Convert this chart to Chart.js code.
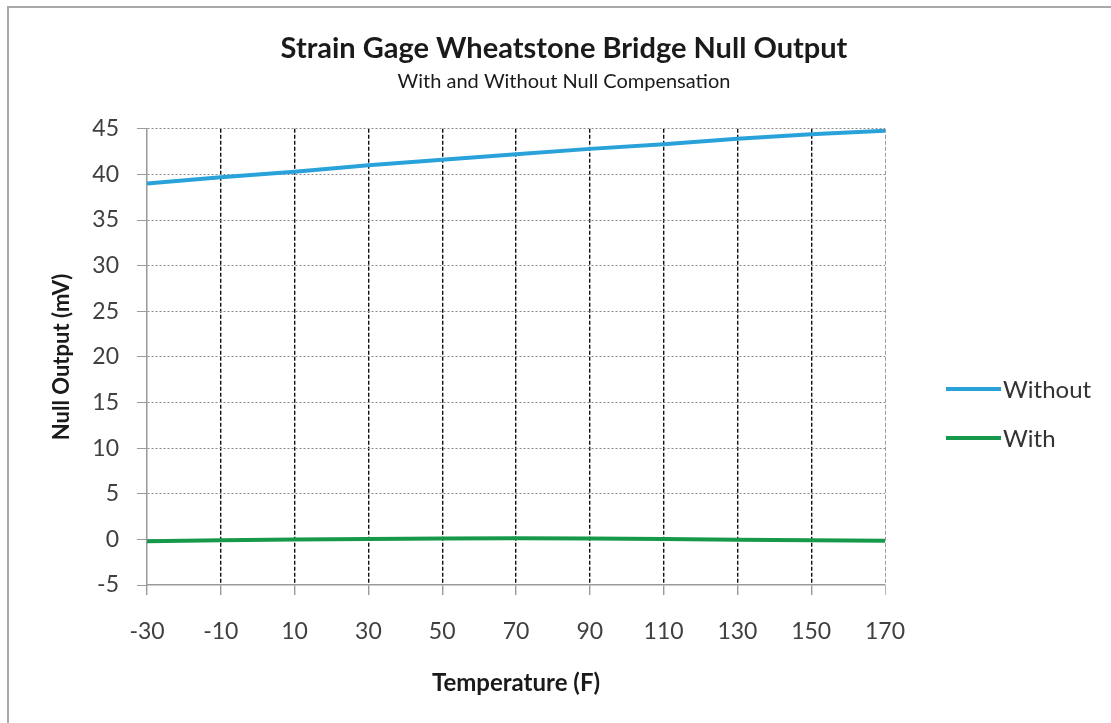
<!DOCTYPE html>
<html>
<head>
<meta charset="utf-8">
<script src="https://cdn.jsdelivr.net/npm/chart.js@4"></script>
<style>
  html, body { margin: 0; padding: 0; background: #fff; }
  #wrap { width: 1111px; height: 723px; }
</style>
</head>
<body>
<div id="wrap"><canvas id="chart"></canvas></div>
<script>
// temperatures (F)
const temps = [-30, -10, 10, 30, 50, 70, 90, 110, 130, 150, 170];
const withoutComp = [39.0, 39.7, 40.3, 41.0, 41.6, 42.2, 42.8, 43.3, 43.9, 44.4, 44.8];
const withComp = [-0.2, -0.1, 0.0, 0.05, 0.1, 0.12, 0.1, 0.05, -0.05, -0.1, -0.15];
const seriesNames = ['Without', 'With'];
const seriesColors = ['#29a2da', '#17994b'];

const FONT = 'Lato, "Open Sans", sans-serif';

const toPoints = vals => vals.map((v, i) => ({ x: temps[i], y: v }));

// white background + the grey frame of the original picture
const frame = {
  id: 'frame',
  beforeDraw(chart) {
    const ctx = chart.ctx;
    ctx.save();
    ctx.fillStyle = '#fff';
    ctx.fillRect(0, 0, chart.width, chart.height);
    ctx.strokeStyle = '#a9a9a9';
    ctx.lineWidth = 2;
    ctx.strokeRect(8, 7, chart.width + 20, chart.height + 20);
    ctx.restore();
  }
};

// Excel-style legend sitting to the right of the plot
const sideLegend = {
  id: 'sideLegend',
  afterDraw(chart) {
    const ctx = chart.ctx;
    const x0 = chart.chartArea.right + 61;
    ctx.save();
    ctx.font = '24px ' + FONT;
    ctx.textBaseline = 'middle';
    chart.data.datasets.forEach((ds, i) => {
      const y = 389 + i * 49;
      ctx.strokeStyle = ds.borderColor;
      ctx.lineWidth = 4;
      ctx.beginPath();
      ctx.moveTo(x0, y);
      ctx.lineTo(x0 + 55, y);
      ctx.stroke();
      ctx.fillStyle = '#333';
      ctx.fillText(ds.label, x0 + 57, y + 1);
    });
    ctx.restore();
  }
};

new Chart(document.getElementById('chart'), {
  type: 'line',
  data: {
    datasets: [
      { label: seriesNames[0], data: toPoints(withoutComp), borderColor: seriesColors[0], backgroundColor: seriesColors[0] },
      { label: seriesNames[1], data: toPoints(withComp), borderColor: seriesColors[1], backgroundColor: seriesColors[1] }
    ]
  },
  options: {
    responsive: true,
    maintainAspectRatio: false,
    animation: false,
    layout: { padding: { left: 20, right: 3, top: 0, bottom: 20 } },
    elements: {
      point: { radius: 0 },
      line: { borderWidth: 4, tension: 0 }
    },
    plugins: {
      legend: { display: false },
      tooltip: { enabled: false },
      title: {
        display: true,
        text: 'Strain Gage Wheatstone Bridge Null Output',
        color: '#1a1a1a',
        font: { family: FONT, size: 29, weight: 'bold' },
        padding: { top: 31, bottom: 4 }
      },
      subtitle: {
        display: true,
        text: 'With and Without Null Compensation',
        color: '#1a1a1a',
        font: { family: FONT, size: 20 },
        padding: { top: 0, bottom: 35 }
      }
    },
    scales: {
      x: {
        type: 'linear',
        min: -30,
        max: 170,
        afterFit(s) { s.height = 723 - 20 - 585; },
        ticks: { stepSize: 20, padding: 23, color: '#404040', font: { family: FONT, size: 23 } },
        border: { display: true, color: '#9a9a9a', width: 1.5, dash: [4, 2] },
        grid: {
          color: c => c.index === 0 ? 'rgba(0,0,0,0)' : (c.tick && c.tick.value === 170 ? '#9a9a9a' : '#111'),
          lineWidth: c => c.tick && c.tick.value === 170 ? 1 : 1.4,
          tickLength: 10,
          tickColor: '#9a9a9a',
          tickBorderDash: [1, 0]
        },
        title: {
          display: true,
          text: 'Temperature (F)',
          color: '#1a1a1a',
          font: { family: FONT, size: 24, weight: 'bold' },
          padding: { top: 0, bottom: 5 }
        }
      },
      y: {
        min: -5,
        max: 45,
        afterFit(s) { s.width = 147 - 20; },
        ticks: { stepSize: 5, padding: 18, color: '#404040', font: { family: FONT, size: 23 } },
        border: { display: true, color: '#9a9a9a', width: 1.5, dash: [2, 2] },
        grid: {
          color: c => c.index === 0 ? 'rgba(0,0,0,0)' : '#8a8a8a',
          tickLength: 10,
          tickColor: '#9a9a9a',
          tickBorderDash: [1, 0]
        },
        title: {
          display: true,
          text: 'Null Output (mV)',
          color: '#1a1a1a',
          font: { family: FONT, size: 22, weight: 'bold' },
          padding: { top: 29, bottom: 0 }
        }
      },
      // empty right-hand axis that only reserves room for the legend
      yRoom: {
        position: 'right',
        display: true,
        afterFit(s) { s.width = 1111 - 3 - 885; },
        ticks: { display: false },
        grid: { display: false },
        border: { display: false }
      }
    }
  },
  plugins: [frame, sideLegend]
});
</script>
</body>
</html>
